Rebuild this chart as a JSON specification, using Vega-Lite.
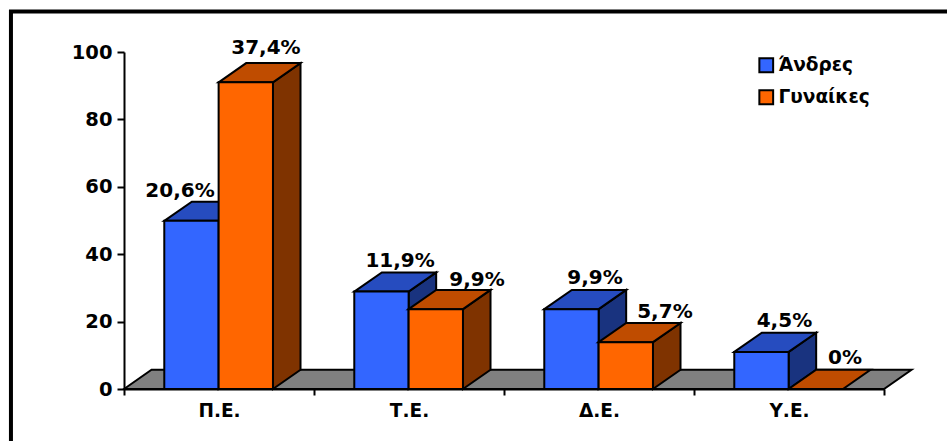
{
"$schema":"https://vega.github.io/schema/vega-lite/v6.json",
"width":760,"height":337,
"autosize":{"type":"none"},
"padding":{"left":124,"top":52,"right":63,"bottom":52},
"background":"white",
"config":{"view":{"stroke":null},"font":"DejaVu Sans"},
"datasets":{
"bars":[
{"cat":"Π.Ε.","series":"Άνδρες","x":0.212,"x2":0.498,"value":49.9},
{"cat":"Π.Ε.","series":"Γυναίκες","x":0.498,"x2":0.784,"value":91},
{"cat":"Τ.Ε.","series":"Άνδρες","x":1.212,"x2":1.498,"value":28.9},
{"cat":"Τ.Ε.","series":"Γυναίκες","x":1.498,"x2":1.784,"value":23.7},
{"cat":"Δ.Ε.","series":"Άνδρες","x":2.212,"x2":2.498,"value":23.7},
{"cat":"Δ.Ε.","series":"Γυναίκες","x":2.498,"x2":2.784,"value":13.9},
{"cat":"Υ.Ε.","series":"Άνδρες","x":3.212,"x2":3.498,"value":11},
{"cat":"Υ.Ε.","series":"Γυναίκες","x":3.498,"x2":3.784,"value":0}
],
"labels":[
{"label":"20,6%","x":0.295,"y":56.9},
{"label":"37,4%","x":0.747,"y":99.4},
{"label":"11,9%","x":1.453,"y":36.1},
{"label":"9,9%","x":1.858,"y":30.5},
{"label":"9,9%","x":2.479,"y":31.2},
{"label":"5,7%","x":2.847,"y":21.1},
{"label":"4,5%","x":3.476,"y":18.4},
{"label":"0%","x":3.795,"y":7.4}
],
"floor":[
{"x":0,"y":0,"y2":0},
{"x":0.145,"y":5.7,"y2":0},
{"x":4,"y":5.7,"y2":0},
{"x":4.145,"y":5.7,"y2":5.7}
],
"frame":[{"x":-0.595,"x2":5,"y":112,"y2":-50}],
"faces":[
{"series":"Άνδρες","face":"side","cat":"Π.Ε.","x":0.498,"y":0,"y2":49.9},
{"series":"Άνδρες","face":"side","cat":"Π.Ε.","x":0.643,"y":5.7,"y2":55.6},
{"series":"Άνδρες","face":"side","cat":"Τ.Ε.","x":1.498,"y":0,"y2":28.9},
{"series":"Άνδρες","face":"side","cat":"Τ.Ε.","x":1.643,"y":5.7,"y2":34.6},
{"series":"Άνδρες","face":"side","cat":"Δ.Ε.","x":2.498,"y":0,"y2":23.7},
{"series":"Άνδρες","face":"side","cat":"Δ.Ε.","x":2.643,"y":5.7,"y2":29.4},
{"series":"Άνδρες","face":"side","cat":"Υ.Ε.","x":3.498,"y":0,"y2":11},
{"series":"Άνδρες","face":"side","cat":"Υ.Ε.","x":3.643,"y":5.7,"y2":16.7},
{"series":"Άνδρες","face":"top","cat":"Π.Ε.","x":0.212,"y":49.9,"y2":49.9},
{"series":"Άνδρες","face":"top","cat":"Π.Ε.","x":0.357,"y":55.6,"y2":49.9},
{"series":"Άνδρες","face":"top","cat":"Π.Ε.","x":0.498,"y":55.6,"y2":49.9},
{"series":"Άνδρες","face":"top","cat":"Π.Ε.","x":0.643,"y":55.6,"y2":55.6},
{"series":"Άνδρες","face":"top","cat":"Τ.Ε.","x":1.212,"y":28.9,"y2":28.9},
{"series":"Άνδρες","face":"top","cat":"Τ.Ε.","x":1.357,"y":34.6,"y2":28.9},
{"series":"Άνδρες","face":"top","cat":"Τ.Ε.","x":1.498,"y":34.6,"y2":28.9},
{"series":"Άνδρες","face":"top","cat":"Τ.Ε.","x":1.643,"y":34.6,"y2":34.6},
{"series":"Άνδρες","face":"top","cat":"Δ.Ε.","x":2.212,"y":23.7,"y2":23.7},
{"series":"Άνδρες","face":"top","cat":"Δ.Ε.","x":2.357,"y":29.4,"y2":23.7},
{"series":"Άνδρες","face":"top","cat":"Δ.Ε.","x":2.498,"y":29.4,"y2":23.7},
{"series":"Άνδρες","face":"top","cat":"Δ.Ε.","x":2.643,"y":29.4,"y2":29.4},
{"series":"Άνδρες","face":"top","cat":"Υ.Ε.","x":3.212,"y":11,"y2":11},
{"series":"Άνδρες","face":"top","cat":"Υ.Ε.","x":3.357,"y":16.7,"y2":11},
{"series":"Άνδρες","face":"top","cat":"Υ.Ε.","x":3.498,"y":16.7,"y2":11},
{"series":"Άνδρες","face":"top","cat":"Υ.Ε.","x":3.643,"y":16.7,"y2":16.7},
{"series":"Γυναίκες","face":"side","cat":"Π.Ε.","x":0.784,"y":0,"y2":91},
{"series":"Γυναίκες","face":"side","cat":"Π.Ε.","x":0.929,"y":5.7,"y2":96.7},
{"series":"Γυναίκες","face":"side","cat":"Τ.Ε.","x":1.784,"y":0,"y2":23.7},
{"series":"Γυναίκες","face":"side","cat":"Τ.Ε.","x":1.929,"y":5.7,"y2":29.4},
{"series":"Γυναίκες","face":"side","cat":"Δ.Ε.","x":2.784,"y":0,"y2":13.9},
{"series":"Γυναίκες","face":"side","cat":"Δ.Ε.","x":2.929,"y":5.7,"y2":19.6},
{"series":"Γυναίκες","face":"top","cat":"Π.Ε.","x":0.498,"y":91,"y2":91},
{"series":"Γυναίκες","face":"top","cat":"Π.Ε.","x":0.643,"y":96.7,"y2":91},
{"series":"Γυναίκες","face":"top","cat":"Π.Ε.","x":0.784,"y":96.7,"y2":91},
{"series":"Γυναίκες","face":"top","cat":"Π.Ε.","x":0.929,"y":96.7,"y2":96.7},
{"series":"Γυναίκες","face":"top","cat":"Τ.Ε.","x":1.498,"y":23.7,"y2":23.7},
{"series":"Γυναίκες","face":"top","cat":"Τ.Ε.","x":1.643,"y":29.4,"y2":23.7},
{"series":"Γυναίκες","face":"top","cat":"Τ.Ε.","x":1.784,"y":29.4,"y2":23.7},
{"series":"Γυναίκες","face":"top","cat":"Τ.Ε.","x":1.929,"y":29.4,"y2":29.4},
{"series":"Γυναίκες","face":"top","cat":"Δ.Ε.","x":2.498,"y":13.9,"y2":13.9},
{"series":"Γυναίκες","face":"top","cat":"Δ.Ε.","x":2.643,"y":19.6,"y2":13.9},
{"series":"Γυναίκες","face":"top","cat":"Δ.Ε.","x":2.784,"y":19.6,"y2":13.9},
{"series":"Γυναίκες","face":"top","cat":"Δ.Ε.","x":2.929,"y":19.6,"y2":19.6},
{"series":"Γυναίκες","face":"top","cat":"Υ.Ε.","x":3.498,"y":0,"y2":0},
{"series":"Γυναίκες","face":"top","cat":"Υ.Ε.","x":3.643,"y":5.7,"y2":0},
{"series":"Γυναίκες","face":"top","cat":"Υ.Ε.","x":3.784,"y":5.7,"y2":0},
{"series":"Γυναίκες","face":"top","cat":"Υ.Ε.","x":3.929,"y":5.7,"y2":5.7}
]
},
"layer":[
{"data":{"name":"floor"},"mark":{"type":"area","orient":"vertical","fill":"#808080","stroke":"black","strokeWidth":2,"clip":false},
 "encoding":{
  "x":{"field":"x","type":"quantitative","scale":{"domain":[0,4],"nice":false,"zero":false},
   "axis":{"title":null,"values":[0,1,2,3,4],"grid":false,"domainColor":"black","domainWidth":2,"tickColor":"black","tickWidth":2,"tickSize":6,"labelExpr":"['Π.Ε.','Τ.Ε.','Δ.Ε.','Υ.Ε.',''][datum.value]","labelOffset":95,"labelFont":"DejaVu Sans","labelFontWeight":"bold","labelFontSize":18.5,"labelColor":"black","labelPadding":6,"labelOverlap":false,"labelFlush":false,"labelBound":false}},
  "y":{"field":"y","type":"quantitative","stack":null,"scale":{"domain":[0,100],"nice":false},
   "axis":{"title":null,"values":[0,20,40,60,80,100],"grid":false,"domainColor":"black","domainWidth":2,"tickColor":"black","tickWidth":2,"tickSize":7,"labelFont":"DejaVu Sans","labelFontWeight":"bold","labelFontSize":19.5,"labelColor":"black","labelPadding":5,"labelOverlap":false,"labelBound":false,"labelFlush":false}},
  "y2":{"field":"y2"}}},
{"data":{"name":"faces"},"transform":[{"filter":"datum.series==='Άνδρες'&&datum.face==='side'"}],"mark":{"type":"area","orient":"vertical","fill":"#19337F","stroke":"black","strokeWidth":2,"clip":false},
 "encoding":{"x":{"field":"x","type":"quantitative"},"y":{"field":"y","type":"quantitative","stack":null},"y2":{"field":"y2"},"detail":{"field":"cat"}}},
{"data":{"name":"faces"},"transform":[{"filter":"datum.series==='Άνδρες'&&datum.face==='top'"}],"mark":{"type":"area","orient":"vertical","fill":"#264CBF","stroke":"black","strokeWidth":2,"clip":false},
 "encoding":{"x":{"field":"x","type":"quantitative"},"y":{"field":"y","type":"quantitative","stack":null},"y2":{"field":"y2"},"detail":{"field":"cat"}}},
{"data":{"name":"bars"},"transform":[{"filter":"datum.series==='Άνδρες'"}],"mark":{"type":"rect","stroke":"black","strokeWidth":2,"clip":false},
 "encoding":{"x":{"field":"x","type":"quantitative"},"x2":{"field":"x2"},"y":{"field":"value","type":"quantitative"},"y2":{"datum":0},
  "fill":{"field":"series","type":"nominal","scale":{"domain":["Άνδρες","Γυναίκες"],"range":["#3366FF","#FF6600"]},
   "legend":{"title":null,"orient":"none","legendX":633,"legendY":4,"symbolType":"square","symbolSize":190,"symbolStrokeColor":"black","symbolStrokeWidth":2,"symbolOpacity":1,"labelFont":"DejaVu Sans","labelFontWeight":"bold","labelFontSize":18.5,"labelColor":"black","labelOffset":3,"rowPadding":9,"labelLimit":200}}}},
{"data":{"name":"faces"},"transform":[{"filter":"datum.series==='Γυναίκες'&&datum.face==='side'"}],"mark":{"type":"area","orient":"vertical","fill":"#7F3300","stroke":"black","strokeWidth":2,"clip":false},
 "encoding":{"x":{"field":"x","type":"quantitative"},"y":{"field":"y","type":"quantitative","stack":null},"y2":{"field":"y2"},"detail":{"field":"cat"}}},
{"data":{"name":"faces"},"transform":[{"filter":"datum.series==='Γυναίκες'&&datum.face==='top'"}],"mark":{"type":"area","orient":"vertical","fill":"#BF4C00","stroke":"black","strokeWidth":2,"clip":false},
 "encoding":{"x":{"field":"x","type":"quantitative"},"y":{"field":"y","type":"quantitative","stack":null},"y2":{"field":"y2"},"detail":{"field":"cat"}}},
{"data":{"name":"bars"},"transform":[{"filter":"datum.series==='Γυναίκες'"}],"mark":{"type":"rect","stroke":"black","strokeWidth":2,"clip":false},
 "encoding":{"x":{"field":"x","type":"quantitative"},"x2":{"field":"x2"},"y":{"field":"value","type":"quantitative"},"y2":{"datum":0},
  "fill":{"field":"series","type":"nominal"}}},
{"data":{"name":"labels"},"mark":{"type":"text","font":"DejaVu Sans","fontWeight":"bold","fontSize":20,"fill":"black","align":"center","baseline":"alphabetic","clip":false},
 "encoding":{"x":{"field":"x","type":"quantitative"},"y":{"field":"y","type":"quantitative"},"text":{"field":"label"}}},
{"data":{"name":"frame"},"mark":{"type":"rect","filled":false,"stroke":"black","strokeWidth":4,"clip":false},
 "encoding":{"x":{"field":"x","type":"quantitative"},"x2":{"field":"x2"},"y":{"field":"y","type":"quantitative"},"y2":{"field":"y2"}}}
]
}
